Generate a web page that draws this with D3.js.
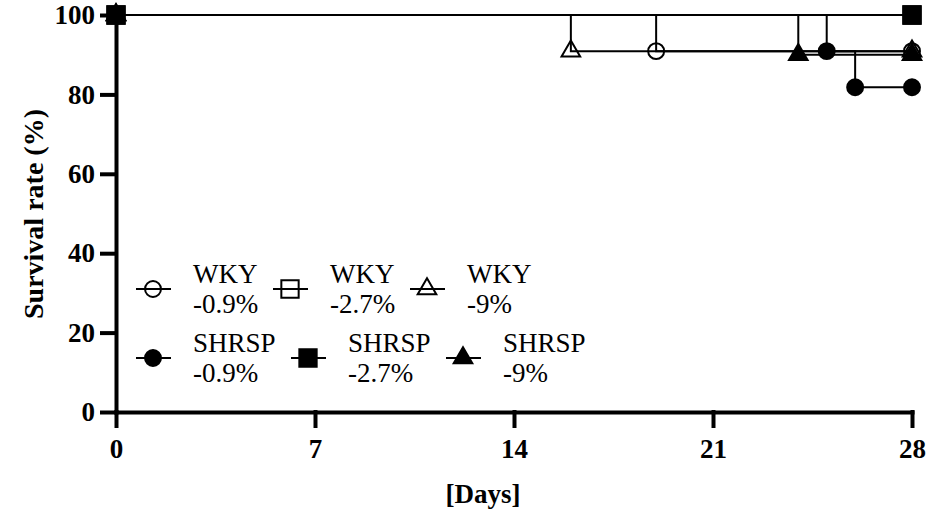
<!DOCTYPE html>
<html lang="en">
<head>
<meta charset="utf-8">
<title>Survival rate</title>
<script src="https://d3js.org/d3.v7.min.js"></script>
<style>
  body { margin: 0; background: #fff; }
  svg text { font-family: "Liberation Serif", "Times New Roman", serif; }
</style>
</head>
<body>
<svg width="950" height="515"></svg>
<script>
// survival data (Kaplan-Meier steps): day of event and survival after it
const wky09Days = [0, 19, 28];
const wky09Surv = [100, 90.9, 90.9];
const wky27Days = [0, 28];
const wky27Surv = [100, 100];
const wky9Days = [0, 16, 28];
const wky9Surv = [100, 90.9, 90.9];
const shr09Days = [0, 25, 26, 28];
const shr09Surv = [100, 90.9, 81.8, 81.8];
const shr9Days = [0, 24, 28];
const shr9Surv = [100, 90, 90];
const shr27Days = [0, 28];
const shr27Surv = [100, 100];

const xTicks = [0, 7, 14, 21, 28];
const yTicks = [0, 20, 40, 60, 80, 100];

const legendStrains = ["WKY", "WKY", "WKY", "SHRSP", "SHRSP", "SHRSP"];
const legendDiets = ["-0.9%", "-2.7%", "-9%", "-0.9%", "-2.7%", "-9%"];

// series in drawing order
const series = [
  {days: wky09Days, surv: wky09Surv, shape: "circle", filled: false},
  {days: wky27Days, surv: wky27Surv, shape: "square", filled: false},
  {days: wky9Days, surv: wky9Surv, shape: "triangle", filled: false},
  {days: shr09Days, surv: shr09Surv, shape: "circle", filled: true},
  {days: shr9Days, surv: shr9Surv, shape: "triangle", filled: true},
  {days: shr27Days, surv: shr27Surv, shape: "square", filled: true}
];

var serif = "'Liberation Serif', 'Times New Roman', serif"
var svg = d3.select("svg")
var x = d3.scaleLinear().domain([0, 28]).range([116, 912])
var y = d3.scaleLinear().domain([0, 100]).range([412, 15])

var shapes = {
  circle: d3.symbol().type(d3.symbolCircle).size(200),
  square: d3.symbol().type(d3.symbolSquare).size(300),
  triangle: d3.symbol().type(d3.symbolTriangle).size(150)
}

function drawSymbol(g, s, cx, cy) {
  g.append("path")
    .attr("d", shapes[s.shape]())
    .attr("transform", "translate(" + cx + "," + cy + ")")
    .attr("fill", s.filled ? "#000" : "none")
    .attr("stroke", "#000")
    .attr("stroke-width", 2)
}

//axes
svg.append("g").attr("transform", "translate(" + x(0) + ",0)")
  .call(d3.axisLeft(y).tickValues(yTicks).tickSize(14).tickSizeOuter(0).tickPadding(7))
svg.append("g").attr("transform", "translate(0," + y(0) + ")")
  .call(d3.axisBottom(x).tickValues(xTicks).tickSize(14).tickSizeOuter(0).tickPadding(13))

svg.selectAll("g").attr("font-family", serif)
svg.selectAll(".domain, .tick line")
  .attr("stroke", "#000").attr("stroke-width", 4).attr("stroke-linecap", "square")
svg.selectAll(".tick text")
  .attr("fill", "#000")
  .style("font-size", "27px").style("font-weight", "bold")

svg.append("text")
  .attr("transform", "translate(43,214) rotate(-90)")
  .attr("text-anchor", "middle")
  .style("font-size", "28px").style("font-weight", "bold")
  .text("Survival rate (%)")

svg.append("text")
  .attr("x", 483).attr("y", 503)
  .attr("text-anchor", "middle")
  .style("font-size", "27px").style("font-weight", "bold")
  .text("[Days]")

//survival curves
var line = d3.line().curve(d3.curveStepAfter)
  .x(function(d) { return x(d[0]) })
  .y(function(d) { return y(d[1]) })

var plot = svg.append("g")
series.forEach(function(s) {
  var pts = s.days.map(function(d, i) { return [d, s.surv[i]] })
  plot.append("path")
    .attr("d", line(pts))
    .attr("fill", "none")
    .attr("stroke", "#000")
    .attr("stroke-width", 2)
})
series.forEach(function(s) {
  s.days.forEach(function(d, i) {
    drawSymbol(plot, s, x(d), y(s.surv[i]))
  })
})

//legend
var legendX = [153, 290, 427, 153, 308, 463]
var legendY = [289, 289, 289, 358, 358, 358]
var legendOrder = [0, 1, 2, 3, 5, 4] // legend slot -> series index
var legend = svg.append("g")
legendOrder.forEach(function(si, k) {
  var cx = legendX[k], cy = legendY[k]
  legend.append("line")
    .attr("x1", cx - 17).attr("x2", cx + 18)
    .attr("y1", cy).attr("y2", cy)
    .attr("stroke", "#000").attr("stroke-width", 2)
  drawSymbol(legend, series[si], cx, cy)
  var t = legend.append("text")
    .attr("x", cx + 40).attr("y", cy - 6)
    .style("font-size", "27px")
  t.append("tspan").attr("x", cx + 40).text(legendStrains[k])
  t.append("tspan").attr("x", cx + 40).attr("dy", 30).text(legendDiets[k])
})
</script>
</body>
</html>
